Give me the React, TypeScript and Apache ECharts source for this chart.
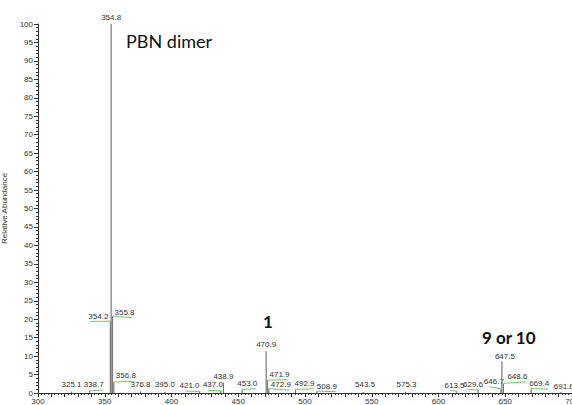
import React, { useEffect, useRef } from "react";
import * as echarts from "echarts";

// m/z values of the labelled peaks
const mzValues: number[] = [
  325.1, 338.7, 354.2, 354.8, 355.8, 356.8, 376.8, 395.0, 421.0, 437.0, 438.9,
  453.0, 470.9, 471.9, 472.9, 492.9, 508.9, 543.5, 575.3, 613.5, 629.6, 646.7,
  647.5, 648.6, 669.4, 691.6,
];
// relative abundance (%)
const abundance: number[] = [
  0.4, 0.6, 19.5, 100, 20.8, 3.0, 0.5, 0.3, 0.4, 0.6, 2.8,
  1.0, 11.3, 3.5, 1.2, 1.0, 0.5, 0.3, 0.3, 0.5, 0.8, 1.0,
  8.6, 2.6, 1.2, 0.3,
];
// label styling: [dx, dy, align, leader line]
const labelSpec: [number, number, string, boolean][] = [
  [0, -3, "center", false],
  [4, -2, "center", true],
  [-2, -1, "right", true],
  [0, -3, "center", false],
  [2, 0, "left", true],
  [2, -2, "left", true],
  [0, -3, "center", false],
  [0, -3, "center", false],
  [-10, -2, "center", true],
  [-8, -2, "center", true],
  [0, -2, "center", false],
  [5, -2, "center", true],
  [0, -3, "center", false],
  [2, -2, "left", true],
  [2, 0, "left", true],
  [9, -2, "center", true],
  [10, -1, "center", true],
  [2, -3, "center", false],
  [1, -3, "center", false],
  [-2, -2, "center", true],
  [-5, -2, "center", true],
  [-7, -4, "center", true],
  [3, -1, "center", false],
  [4, -3, "left", true],
  [8, -1, "center", true],
  [3, -1, "center", false],
];
const yTicks = { min: 0, max: 100, interval: 5 };
const xTicks = { min: 300, max: 700, interval: 10, labelEvery: 50 };

export default function App() {
  const ref = useRef<HTMLDivElement>(null);
  useEffect(() => {
    if (!ref.current) return;
    const chart = echarts.init(ref.current, undefined, { renderer: "svg" });
    const data = mzValues.map((m, i) => [m, abundance[i], i]);
    const labelFont = '8px "Liberation Sans", Arial, sans-serif';
    chart.setOption({
      animation: false,
      backgroundColor: "#ffffff",
      grid: { left: 38, right: 0, top: 24, bottom: 12, containLabel: false, outerBoundsMode: "none" },
      xAxis: {
        type: "value",
        min: xTicks.min,
        max: xTicks.max,
        interval: xTicks.interval,
        splitLine: { show: false },
        axisLine: { lineStyle: { color: "#333", width: 1 } },
        axisTick: { length: 4, lineStyle: { color: "#333" } },
        minorTick: { show: true, splitNumber: 4, length: 2, lineStyle: { color: "#333" } },
        axisLabel: {
          margin: 4,
          fontSize: 8,
          color: "#333",
          fontFamily: '"Liberation Sans", Arial, sans-serif',
          formatter: (v: number) => (v % xTicks.labelEvery === 0 ? String(v) : ""),
        },
      },
      yAxis: {
        type: "value",
        min: yTicks.min,
        max: yTicks.max,
        interval: yTicks.interval,
        name: "Relative Abundance",
        nameLocation: "middle",
        nameGap: 21,
        nameRotate: 90,
        nameTextStyle: { fontSize: 8, color: "#333", fontFamily: '"Liberation Sans", Arial, sans-serif' },
        splitLine: { show: false },
        axisLine: { show: true, lineStyle: { color: "#333", width: 1 } },
        axisTick: { show: true, length: 4, lineStyle: { color: "#333" } },
        minorTick: { show: true, splitNumber: 5, length: 2, lineStyle: { color: "#333" } },
        axisLabel: {
          margin: 5,
          fontSize: 8,
          color: "#333",
          fontFamily: '"Liberation Sans", Arial, sans-serif',
        },
      },
      series: [
        {
          type: "custom",
          clip: false,
          data,
          renderItem: (params: any, api: any) => {
            const i = params.dataIndex;
            const xv = api.value(0);
            const yv = api.value(1);
            const top = api.coord([xv, yv]);
            const base = api.coord([xv, 0]);
            const [dx, dy, align, leader] = labelSpec[i];
            const lx = top[0] + dx;
            const ly = top[1] + dy;
            const children: any[] = [
              {
                type: "line",
                shape: { x1: base[0], y1: base[1], x2: top[0], y2: top[1] },
                style: { stroke: "#7a7a7a", lineWidth: 1.2 },
              },
            ];
            if (leader) {
              const w = 18;
              let xFar: number;
              if (align === "left") xFar = lx + w;
              else if (align === "right") xFar = lx - w;
              else xFar = dx > 0 ? lx + w / 2 : lx - w / 4;
              const yl = ly + 1.5;
              children.push({
                type: "line",
                shape: { x1: top[0], y1: Math.min(top[1], yl + 2), x2: xFar, y2: yl },
                style: { stroke: "#74c96f", lineWidth: 1 },
              });
            }
            children.push({
              type: "text",
              x: lx,
              y: ly,
              style: {
                text: mzValues[i].toFixed(1),
                align,
                textAlign: align,
                verticalAlign: "bottom",
                textVerticalAlign: "bottom",
                font: labelFont,
                fill: "#333",
              },
            });
            return { type: "group", children };
          },
        },
      ],
      graphic: [
        {
          type: "text",
          left: 126,
          top: 32,
          style: {
            text: "PBN dimer",
            font: '18px Lato, "Open Sans", sans-serif',
            fill: "#111",
          },
        },
        {
          type: "text",
          left: 263,
          top: 313,
          style: {
            text: "1",
            font: 'bold 17px Lato, "Open Sans", sans-serif',
            fill: "#111",
          },
        },
        {
          type: "text",
          left: 482,
          top: 329,
          style: {
            text: "9 or 10",
            font: 'bold 17px Lato, "Open Sans", sans-serif',
            fill: "#111",
          },
        },
      ],
    });
    return () => chart.dispose();
  }, []);
  return (
    <div
      ref={ref}
      style={{ position: "fixed", left: 0, top: 0, width: 572, height: 405, background: "#fff" }}
    />
  );
}
